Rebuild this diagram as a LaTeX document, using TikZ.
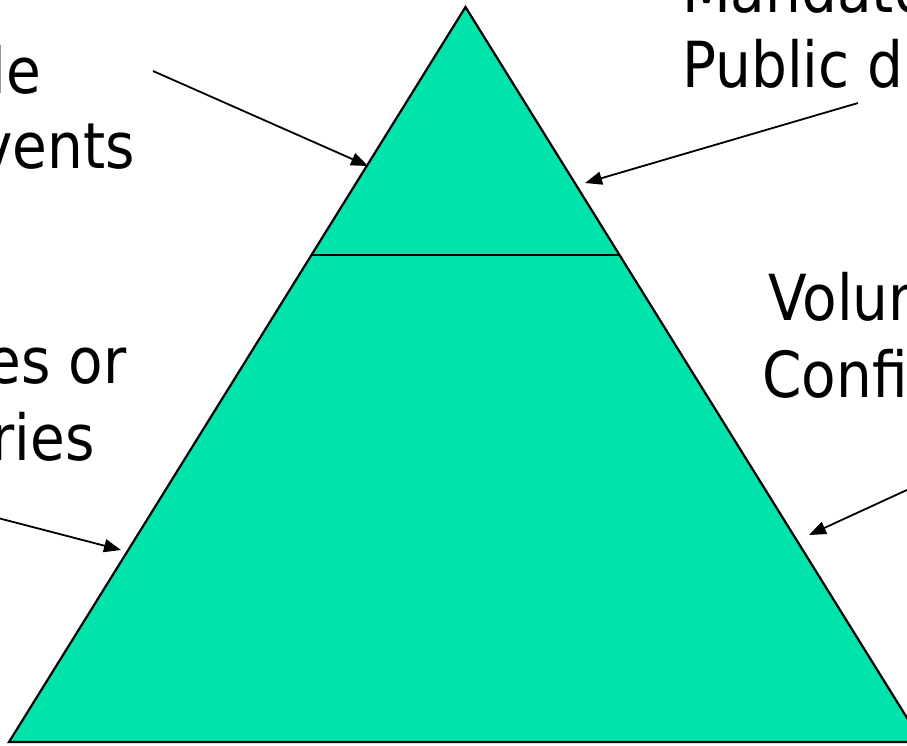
\documentclass[tikz,border=0pt]{standalone}
\usepackage{fontspec}
\newfontfamily\labelfont[FakeStretch=0.89]{DejaVu Sans}
\usetikzlibrary{calc,arrows.meta}
\definecolor{pyrgreen}{RGB}{0,227,170}
\tikzset{pyramid/.style={draw=black, line width=2.2pt, fill=pyrgreen, line join=miter},
     tier line/.style={draw=black, line width=2.2pt},
     lbl/.style={inner sep=0pt, font=\labelfont\fontsize{63.5}{76}\selectfont},
     pointer/.style={draw=black, line width=1.8pt, -{Triangle[length=17pt,width=13pt]}}
     }

\begin{document}
\begin{tikzpicture}[x=1pt,y=-1pt]
\useasboundingbox (0,0) rectangle (907,745);
\clip (0,0) rectangle (907,745);
\fill[white] (0,0) rectangle (907,745);

% the pyramid and the line between its two tiers
\coordinate (apex) at (465.5,7);
\coordinate (baseL) at (9,742);
\coordinate (baseR) at (922,742);
\filldraw[pyramid] (apex) -- (baseL) -- (baseR) -- cycle;
\coordinate (tierL) at ($(apex)!0.3374!(baseL)$);
\coordinate (tierR) at ($(apex)!0.3374!(baseR)$);
\draw[tier line] (tierL) -- (tierR);

% labels, one node per line
\node[lbl, anchor=base east] (tlA) at (41,93) {le};
\node[lbl, anchor=base east] (tlB) at (135,168) {vents};
\node[lbl, anchor=base east] (mlA) at (127,383) {es or};
\node[lbl, anchor=base east] (mlB) at (95,460) {ries};
\node[lbl, anchor=base west] (trA) at (682,12) {Mandato};
\node[lbl, anchor=base west] (trB) at (682,87) {Public d};
\node[lbl, anchor=base west] (mrA) at (768,320) {Volun};
\node[lbl, anchor=base west] (mrB) at (762,397) {Confi};

% pointers onto the sides
\coordinate (tlFrom) at (153,71);
\coordinate (tlTo) at (368,166);
\coordinate (trFrom) at (858,103);
\coordinate (trTo) at (585,183);
\coordinate (mlFrom) at (-2,518);
\coordinate (mlTo) at (121,550);
\coordinate (mrFrom) at (909,489);
\coordinate (mrTo) at (809,535);
\draw[pointer] (tlFrom) -- (tlTo);
\draw[pointer] (trFrom) -- (trTo);
\draw[pointer] (mlFrom) -- (mlTo);
\draw[pointer] (mrFrom) -- (mrTo);
\end{tikzpicture}
\end{document}
